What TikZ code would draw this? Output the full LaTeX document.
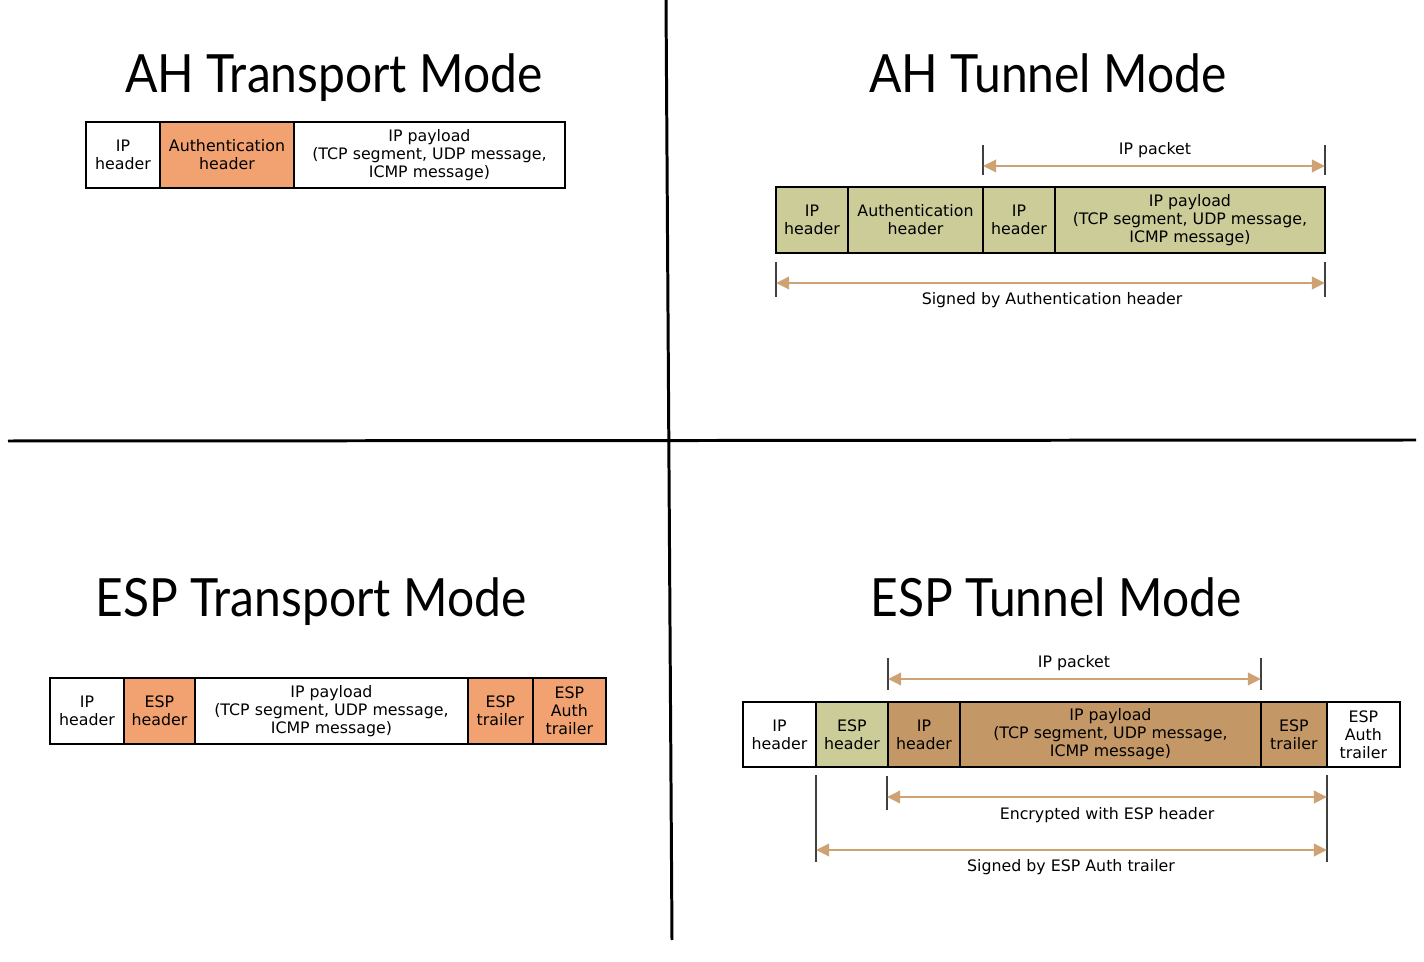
\documentclass[tikz,border=0pt]{standalone}
\usepackage{fontspec}
\setmainfont{DejaVu Sans}
\newfontfamily\titlefont[FakeStretch=0.91]{Lato}
\usetikzlibrary{arrows.meta,positioning}

\definecolor{ahorange}{RGB}{242,162,112}
\definecolor{khaki}{RGB}{204,204,153}
\definecolor{cipher}{RGB}{196,152,102}
\definecolor{tan}{RGB}{206,162,114}

\begin{document}
\begin{tikzpicture}[
    x=0.02cm, y=-0.02cm,
    cell/.style={draw, line width=0.8pt, outer sep=0pt, inner sep=0pt, minimum height=1.32cm, align=center, font=\fontsize{9}{10.2}\selectfont, fill=white},
    title/.style={anchor=base, font=\titlefont\fontsize{30}{30}\selectfont},
    lbl/.style={font=\fontsize{9}{10.2}\selectfont},
    tickline/.style={draw=black!75, line width=0.9pt},
    arr/.style={{Triangle[length=7.5pt,width=7pt]}-{Triangle[length=7.5pt,width=7pt]}, draw=tan, line width=1.7pt},
    divider/.style={line width=1.7pt}
]
\useasboundingbox (0,0) rectangle (1424,962);

% quadrant lines
\draw[divider] (666,0) -- (672,940);
\draw[divider] (8,441) -- (1416,440);

% AH transport mode
\node[title] (t1) at (334,93) {AH Transport Mode};
\node[cell, minimum width=1.48cm] (ip1) at (123,155) {IP\\header};
\node[cell, minimum width=2.68cm, fill=ahorange, right=0pt of ip1] (ah1) {Authentication\\header};
\node[cell, minimum width=5.42cm, right=0pt of ah1] (pay1) {IP payload\\(TCP segment, UDP message,\\ICMP message)};

% AH tunnel mode
\node[title] (t2) at (1048,93) {AH Tunnel Mode};
\node[cell, minimum width=1.44cm, fill=khaki] (ip2) at (812,220) {IP\\header};
\node[cell, minimum width=2.70cm, fill=khaki, right=0pt of ip2] (ah2) {Authentication\\header};
\node[cell, minimum width=1.44cm, fill=khaki, right=0pt of ah2] (ipin2) {IP\\header};
\node[cell, minimum width=5.40cm, fill=khaki, right=0pt of ipin2] (pay2) {IP payload\\(TCP segment, UDP message,\\ICMP message)};

\coordinate (pk2a) at (983,145);
\coordinate (pk2b) at (1325,145);
\coordinate (pk2c) at (983,175);
\coordinate (pk2d) at (1325,175);
\coordinate (pk2l) at (983,166);
\coordinate (pk2r) at (1325,166);
\draw[tickline] (pk2a) -- (pk2c);
\draw[tickline] (pk2b) -- (pk2d);
\draw[arr] (pk2l) -- (pk2r);
\node[lbl] (pk2) at (1155,150) {IP packet};

\coordinate (sg2a) at (776,262);
\coordinate (sg2b) at (1325,262);
\coordinate (sg2c) at (776,297);
\coordinate (sg2d) at (1325,297);
\coordinate (sg2l) at (776,283);
\coordinate (sg2r) at (1325,283);
\draw[tickline] (sg2a) -- (sg2c);
\draw[tickline] (sg2b) -- (sg2d);
\draw[arr] (sg2l) -- (sg2r);
\node[lbl] (sg2) at (1052,300) {Signed by Authentication header};

% ESP transport mode
\node[title] (t3) at (311,617) {ESP Transport Mode};
\node[cell, minimum width=1.48cm] (ip3) at (87,711) {IP\\header};
\node[cell, minimum width=1.42cm, fill=ahorange, right=0pt of ip3] (esph3) {ESP\\header};
\node[cell, minimum width=5.46cm, right=0pt of esph3] (pay3) {IP payload\\(TCP segment, UDP message,\\ICMP message)};
\node[cell, minimum width=1.30cm, fill=ahorange, right=0pt of pay3] (espt3) {ESP\\trailer};
\node[cell, minimum width=1.46cm, fill=ahorange, right=0pt of espt3] (espa3) {ESP\\Auth\\trailer};

% ESP tunnel mode
\node[title] (t4) at (1056,617) {ESP Tunnel Mode};
\node[cell, minimum height=1.30cm, minimum width=1.46cm] (ip4) at (779.5,734.5) {IP\\header};
\node[cell, minimum height=1.30cm, minimum width=1.44cm, fill=khaki, right=0pt of ip4] (esph4) {ESP\\header};
\node[cell, minimum height=1.30cm, minimum width=1.44cm, fill=cipher, right=0pt of esph4] (ipin4) {IP\\header};
\node[cell, minimum height=1.30cm, minimum width=6.02cm, fill=cipher, right=0pt of ipin4] (pay4) {IP payload\\(TCP segment, UDP message,\\ICMP message)};
\node[cell, minimum height=1.30cm, minimum width=1.32cm, fill=cipher, right=0pt of pay4] (espt4) {ESP\\trailer};
\node[cell, minimum height=1.30cm, minimum width=1.46cm, right=0pt of espt4] (espa4) {ESP\\Auth\\trailer};

\coordinate (pk4a) at (888,658);
\coordinate (pk4b) at (1261,658);
\coordinate (pk4c) at (888,690);
\coordinate (pk4d) at (1261,690);
\coordinate (pk4l) at (888,679);
\coordinate (pk4r) at (1261,679);
\draw[tickline] (pk4a) -- (pk4c);
\draw[tickline] (pk4b) -- (pk4d);
\draw[arr] (pk4l) -- (pk4r);
\node[lbl] (pk4) at (1074,663) {IP packet};

\coordinate (en4a) at (887,776);
\coordinate (en4c) at (887,810);
\coordinate (sg4a) at (816,775);
\coordinate (sg4c) at (816,862);
\coordinate (rt4a) at (1327,775);
\coordinate (rt4c) at (1327,862);
\draw[tickline] (en4a) -- (en4c);
\draw[tickline] (sg4a) -- (sg4c);
\draw[tickline] (rt4a) -- (rt4c);

\coordinate (en4l) at (887,797);
\coordinate (en4r) at (1327,797);
\coordinate (sg4l) at (816,850);
\coordinate (sg4r) at (1327,850);
\draw[arr] (en4l) -- (en4r);
\draw[arr] (sg4l) -- (sg4r);
\node[lbl] (en4) at (1107,815) {Encrypted with ESP header};
\node[lbl] (sg4) at (1071,867) {Signed by ESP Auth trailer};
\end{tikzpicture}
\end{document}
